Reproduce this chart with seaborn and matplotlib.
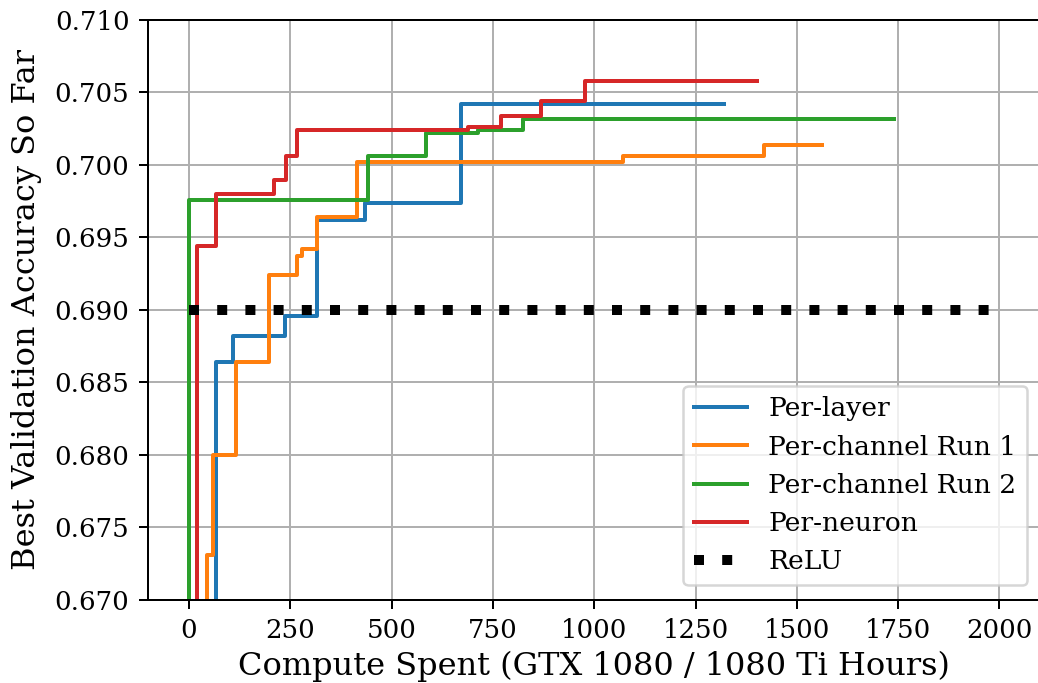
import numpy as np
import pandas as pd
import matplotlib
matplotlib.use("Agg")
import matplotlib.pyplot as plt
import seaborn as sns

# Compute spent (hours) at each improvement and the best accuracy reached
layer_x = [68, 68, 109, 237, 315, 434, 671, 1321]
layer_y = [0.660, 0.6864, 0.6882, 0.6896, 0.6962, 0.6974, 0.7042, 0.7042]

chan1_x = [45, 45, 60, 116, 197, 266, 280, 315, 415, 1072, 1419, 1563]
chan1_y = [0.660, 0.6731, 0.6800, 0.6864, 0.6924, 0.6937, 0.6942, 0.6964,
           0.7002, 0.7006, 0.7014, 0.7014]

chan2_x = [0, 0, 441, 584, 714, 825, 1740]
chan2_y = [0.660, 0.6976, 0.7006, 0.7022, 0.7024, 0.7032, 0.7032]

neuron_x = [21, 21, 68, 210, 239, 266, 688, 771, 868, 977, 1401]
neuron_y = [0.660, 0.6944, 0.6980, 0.6990, 0.7006, 0.7024, 0.7026, 0.7034,
            0.7044, 0.7058, 0.7058]

relu_x = [0, 1995]
relu_y = [0.690, 0.690]

series_names = ["Per-layer", "Per-channel Run 1", "Per-channel Run 2", "Per-neuron"]
series_colors = ["#1f77b4", "#ff7f0e", "#2ca02c", "#d62728"]

plt.rcParams["font.family"] = ["DejaVu Serif"]

fig = plt.figure(figsize=(1038 / 180, 683 / 180), dpi=180)
ax = fig.add_axes([148 / 1038, 83 / 683, (1040 - 148) / 1038, 580 / 683])

datos = [(layer_x, layer_y), (chan1_x, chan1_y), (chan2_x, chan2_y), (neuron_x, neuron_y)]
for (xs, ys), nombre, cor in zip(datos, series_names, series_colors):
    df = pd.DataFrame({"horas": xs, "acc": ys})
    sns.lineplot(data=df, x="horas", y="acc", ax=ax, label=nombre, color=cor,
                 estimator=None, sort=False, drawstyle="steps-post", linewidth=1.6)

# ReLU baseline, dotted with square dots
df_relu = pd.DataFrame({"horas": relu_x, "acc": relu_y})
sns.lineplot(data=df_relu, x="horas", y="acc", ax=ax, label="ReLU", color="black",
             estimator=None, sort=False, linewidth=4, linestyle=(0, (1, 1.82)))

ax.set_xlim(-101, 2100)
ax.set_ylim(0.670, 0.710)
ax.set_xticks(np.arange(0, 2001, 250))
ax.set_yticks(np.arange(0.670, 0.7101, 0.005))
ax.yaxis.set_major_formatter(matplotlib.ticker.FormatStrFormatter("%.3f"))
ax.tick_params(labelsize=10.4, length=3.6, width=0.8, pad=3.8)
ax.grid(True, color="#b0b0b0", linewidth=0.8)
ax.set_axisbelow(True)

ax.set_xlabel("Compute Spent (GTX 1080 / 1080 Ti Hours)", fontsize=12.8, labelpad=3)
ax.set_ylabel("Best Validation Accuracy So Far", fontsize=12.8, labelpad=5)

ax.legend(loc="lower right", bbox_to_anchor=(1027 / 1038, 98 / 683),
          bbox_transform=fig.transFigure, borderaxespad=0, fontsize=10.6)

fig.savefig("out.png", dpi=180)
